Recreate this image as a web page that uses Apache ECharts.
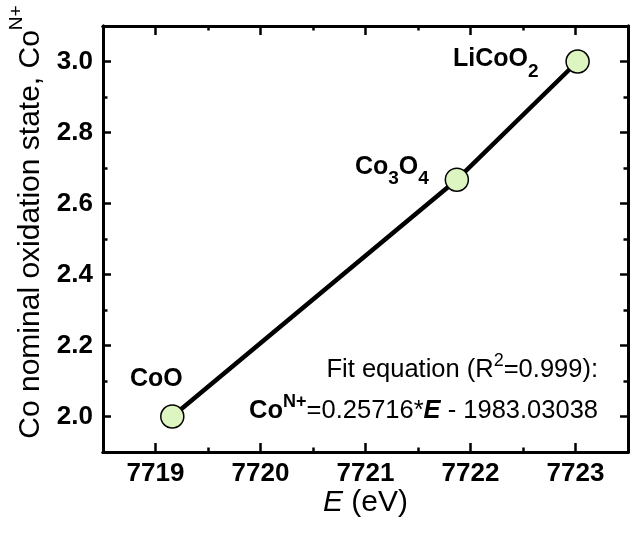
<!DOCTYPE html>
<html>
<head>
<meta charset="utf-8">
<script src="https://cdn.jsdelivr.net/npm/echarts@6/dist/echarts.min.js"></script>
<style>
  html, body { margin: 0; padding: 0; background: #fff; }
  #chart { width: 631px; height: 533px; }
</style>
</head>
<body>
<div id="chart"></div>
<script>
// Cobalt reference compounds: K-edge energy vs nominal oxidation state
const compounds = ['CoO', 'Co3O4', 'LiCoO2'];
const edgeEnergy = [7719.16, 7721.87, 7723.02];
const oxidationState = [2.0, 2.667, 3.0];

const xMajorTicks = [7719, 7720, 7721, 7722, 7723];
const xMinorTicks = [7719.5, 7720.5, 7721.5, 7722.5];
const yMajorTicks = [2.0, 2.2, 2.4, 2.6, 2.8, 3.0];
const yMinorTicks = [2.1, 2.3, 2.5, 2.7, 2.9];

const fitTitle = ['Fit equation (R', '2', '=0.999):'];
const fitFormula = ['Co', 'N+', '=0.25716*', 'E', ' - 1983.03038'];

const FONT = '"Liberation Sans", Arial, Helvetica, sans-serif';
const X_RANGE = [7718.5, 7723.5];
const Y_RANGE = [1.9, 3.1];

// chemical formula -> rich text with subscripted digits
function formulaRich(name) {
  return name.replace(/(\D+)|(\d+)/g, (m, letters, digits) =>
    letters ? '{b|' + letters + '}' : '{s|' + digits + '}');
}

const labelRich = {
  b: { fontFamily: FONT, fontSize: 25, fontWeight: 'bold', color: '#000', lineHeight: 44, verticalAlign: 'middle' },
  s: { fontFamily: FONT, fontSize: 19, fontWeight: 'bold', color: '#000', lineHeight: 19, verticalAlign: 'bottom' }
};

// label placement per compound (relative to its marker)
const labelPlacement = {
  'CoO':    { align: 'center', offset: [-16, -37] },
  'Co3O4':  { align: 'right',  offset: [-28, -13] },
  'LiCoO2': { align: 'right',  offset: [-39, -2] }
};

function axisCommon(range, ticks, len, showLabels, labelOpts) {
  return {
    type: 'value',
    min: range[0],
    max: range[1],
    axisLine: { show: true, onZero: false, lineStyle: { color: '#000', width: 3 } },
    axisTick: { show: true, inside: true, length: len, customValues: ticks,
                lineStyle: { color: '#000', width: 2.5 } },
    axisLabel: Object.assign({ show: showLabels, customValues: ticks }, labelOpts || {}),
    splitLine: { show: false },
    minorTick: { show: false }
  };
}

const tickLabelStyle = { fontFamily: FONT, fontSize: 26, fontWeight: 'bold', color: '#000' };

const xAxes = [
  Object.assign(axisCommon(X_RANGE, xMajorTicks, 9, true,
    Object.assign({ margin: 9, formatter: v => String(Math.round(v)) }, tickLabelStyle)), {
    position: 'bottom',
    name: '{i|E}{n| (eV)}',
    nameLocation: 'middle',
    nameGap: 36,
    nameMoveOverlap: false,
    nameTextStyle: {
      rich: {
        i: { fontFamily: FONT, fontSize: 30, fontStyle: 'italic', color: '#000' },
        n: { fontFamily: FONT, fontSize: 30, color: '#000' }
      }
    }
  }),
  Object.assign(axisCommon(X_RANGE, xMinorTicks, 4.5, false), { position: 'bottom' }),
  Object.assign(axisCommon(X_RANGE, xMajorTicks, 9, false), { position: 'top' }),
  Object.assign(axisCommon(X_RANGE, xMinorTicks, 4.5, false), { position: 'top' })
];

const yAxes = [
  Object.assign(axisCommon(Y_RANGE, yMajorTicks, 8, true,
    Object.assign({ margin: 10, formatter: v => v.toFixed(1) }, tickLabelStyle)), {
    position: 'left',
    name: '{m|Co nominal oxidation state, Co}{sup|N+}',
    nameLocation: 'middle',
    nameGap: 48,
    nameTextStyle: {
      padding: [0, 0, 0, 34],
      rich: {
        m: { fontFamily: FONT, fontSize: 30, color: '#000', lineHeight: 48, verticalAlign: 'middle' },
        sup: { fontFamily: FONT, fontSize: 19, color: '#000', lineHeight: 19, verticalAlign: 'top' }
      }
    }
  }),
  Object.assign(axisCommon(Y_RANGE, yMinorTicks, 4.5, false), { position: 'left' }),
  Object.assign(axisCommon(Y_RANGE, yMajorTicks, 8, false), { position: 'right' }),
  Object.assign(axisCommon(Y_RANGE, yMinorTicks, 4.5, false), { position: 'right' })
];

const points = compounds.map((name, i) => ({
  value: [edgeEnergy[i], oxidationState[i]],
  name: name,
  label: {
    show: true,
    position: 'inside',
    align: labelPlacement[name].align,
    verticalAlign: 'middle',
    offset: labelPlacement[name].offset,
    formatter: formulaRich(name),
    rich: labelRich
  }
}));

const eqRich = {
  m: { fontFamily: FONT, fontSize: 25.5, fill: '#000', lineHeight: 35, verticalAlign: 'middle' },
  b: { fontFamily: FONT, fontSize: 25.5, fontWeight: 'bold', fill: '#000', lineHeight: 35, verticalAlign: 'middle' },
  bi: { fontFamily: FONT, fontSize: 25.5, fontWeight: 'bold', fontStyle: 'italic', fill: '#000', lineHeight: 35, verticalAlign: 'middle' },
  sup: { fontFamily: FONT, fontSize: 18, fill: '#000', lineHeight: 18, verticalAlign: 'top' },
  bsup: { fontFamily: FONT, fontSize: 18, fontWeight: 'bold', fill: '#000', lineHeight: 18, verticalAlign: 'top' }
};

const titleText = '{m|' + fitTitle[0] + '}{sup|' + fitTitle[1] + '}{m|' + fitTitle[2] + '}';
const formulaText = '{b|' + fitFormula[0] + '}{bsup|' + fitFormula[1] + '}{m|' + fitFormula[2] +
  '}{bi|' + fitFormula[3] + '}{m|' + fitFormula[4] + '}';

const chart = echarts.init(document.getElementById('chart'), null, { renderer: 'canvas' });
chart.setOption({
  backgroundColor: '#fff',
  animation: false,
  grid: { left: 103, top: 26, width: 525, height: 426, containLabel: false, outerBoundsMode: 'none' },
  xAxis: xAxes,
  yAxis: yAxes,
  series: [{
    type: 'line',
    xAxisIndex: 0,
    yAxisIndex: 0,
    data: points,
    lineStyle: { color: '#000', width: 4.5 },
    symbol: 'circle',
    symbolSize: 23,
    showSymbol: true,
    itemStyle: { color: '#DDF5C1', borderColor: '#000', borderWidth: 1.5 },
    emphasis: { disabled: true },
    z: 3
  }],
  graphic: [
    {
      type: 'text', x: 598, y: 370, z: 10,
      style: { text: titleText, align: 'right', verticalAlign: 'middle', rich: eqRich }
    },
    {
      type: 'text', x: 598, y: 411, z: 10,
      style: { text: formulaText, align: 'right', verticalAlign: 'middle', rich: eqRich }
    }
  ]
});
</script>
</body>
</html>
